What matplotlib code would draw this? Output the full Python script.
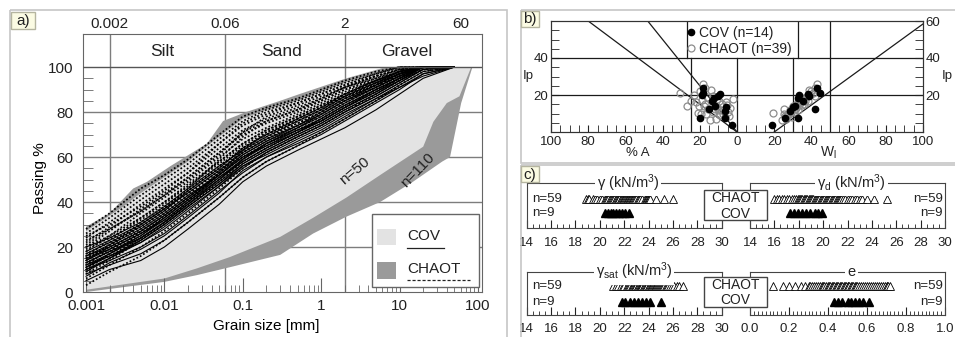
import numpy as np
import matplotlib.pyplot as plt
import matplotlib.transforms as mtransforms
from matplotlib.patches import Rectangle
from matplotlib.lines import Line2D
from matplotlib.ticker import MultipleLocator, FixedLocator, LogLocator, NullFormatter

plt.rcParams['font.family'] = ['Liberation Sans', 'DejaVu Sans']
plt.rcParams['mathtext.fontset'] = 'custom'
plt.rcParams['mathtext.rm'] = 'Liberation Sans'
plt.rcParams['mathtext.it'] = 'Liberation Sans:italic'
plt.rcParams['text.color'] = '#222222'
plt.rcParams['xtick.color'] = '#222222'
plt.rcParams['ytick.color'] = '#222222'

# ---- a) grading curves ----
grain_mm = [0.001, 0.002, 0.005, 0.01, 0.02, 0.05, 0.1, 0.2, 0.5, 1, 2, 5, 10, 20, 50]

cov_curves = [
    [5, 10, 14, 20, 28, 39, 49, 56, 63, 68, 73, 81, 88, 95, 100],
    [8, 12, 17, 23, 31, 42, 51, 58, 65, 70, 76, 84, 90, 97, 100],
    [10, 14, 20, 26, 34, 45, 53, 60, 67, 72, 78, 86, 92, 98, 100],
    [12, 16, 22, 28, 36, 47, 55, 62, 69, 74, 80, 87, 93, 99, 100],
    [13, 18, 24, 31, 39, 49, 57, 63, 70, 75, 81, 88, 94, 100, 100],
    [15, 19, 26, 33, 41, 51, 58, 64, 71, 77, 83, 90, 95, 100, 100],
    [16, 21, 28, 35, 43, 52, 60, 66, 73, 78, 84, 91, 96, 100, 100],
    [18, 23, 30, 37, 44, 54, 62, 68, 74, 80, 86, 92, 97, 100, 100],
    [11, 17, 25, 32, 40, 50, 59, 65, 72, 76, 82, 89, 95, 100, 100],
    [9, 15, 23, 30, 38, 48, 56, 61, 68, 73, 79, 86, 91, 96, 100],
    [20, 24, 31, 38, 46, 56, 63, 69, 76, 81, 87, 93, 98, 100, 100],
    [14, 20, 27, 34, 42, 53, 61, 67, 73, 79, 85, 91, 96, 100, 100],
    [7, 13, 19, 25, 33, 44, 54, 60, 66, 71, 77, 85, 91, 97, 100],
    [17, 22, 29, 36, 45, 55, 64, 70, 77, 82, 88, 94, 98, 100, 100],
    [10, 15, 22, 29, 37, 47, 56, 62, 69, 74, 80, 87, 93, 99, 100],
    [12, 17, 24, 31, 39, 50, 58, 64, 71, 76, 82, 89, 94, 100, 100],
    [14, 19, 26, 32, 40, 51, 59, 66, 72, 77, 83, 90, 95, 100, 100],
    [11, 16, 23, 30, 38, 48, 57, 63, 70, 75, 81, 88, 94, 99, 100],
    [16, 20, 27, 34, 42, 52, 61, 67, 74, 79, 85, 92, 97, 100, 100],
    [13, 18, 25, 33, 41, 52, 60, 65, 71, 76, 82, 90, 95, 100, 100],
]

chaot_curves = [
    [28, 35, 46, 52, 59, 70, 78, 82, 86, 90, 94, 98, 100, 100, 100],
    [26, 33, 43, 50, 57, 68, 76, 81, 85, 89, 93, 97, 100, 100, 100],
    [24, 31, 41, 48, 55, 66, 74, 79, 84, 88, 92, 96, 99, 100, 100],
    [22, 29, 39, 46, 53, 64, 72, 77, 82, 86, 91, 95, 99, 100, 100],
    [20, 27, 37, 44, 51, 62, 70, 75, 80, 85, 90, 95, 98, 100, 100],
    [18, 25, 35, 42, 49, 60, 68, 73, 79, 84, 89, 94, 98, 100, 100],
    [16, 23, 33, 40, 47, 58, 66, 72, 78, 83, 88, 93, 97, 100, 100],
    [14, 21, 31, 38, 45, 56, 64, 70, 76, 81, 87, 93, 97, 100, 100],
    [12, 19, 28, 35, 43, 54, 62, 68, 75, 80, 86, 92, 96, 100, 100],
    [10, 17, 26, 33, 41, 52, 60, 66, 73, 78, 84, 91, 96, 100, 100],
    [8, 14, 23, 30, 38, 49, 58, 64, 71, 76, 82, 89, 95, 100, 100],
    [6, 12, 20, 27, 35, 46, 55, 62, 69, 74, 80, 88, 94, 99, 100],
    [3, 9, 16, 23, 31, 42, 51, 58, 65, 71, 77, 85, 92, 98, 100],
    [25, 30, 38, 45, 53, 66, 75, 80, 84, 88, 92, 97, 100, 100, 100],
    [21, 28, 36, 43, 50, 61, 71, 78, 83, 87, 91, 96, 99, 100, 100],
    [15, 20, 30, 37, 46, 59, 69, 76, 81, 85, 90, 94, 98, 100, 100],
    [11, 16, 24, 31, 40, 53, 63, 71, 77, 82, 87, 92, 97, 100, 100],
    [19, 24, 32, 39, 47, 57, 65, 71, 77, 82, 88, 94, 98, 100, 100],
    [13, 18, 27, 34, 42, 53, 62, 68, 74, 79, 85, 91, 96, 100, 100],
    [17, 22, 30, 37, 45, 55, 64, 70, 76, 81, 87, 93, 97, 100, 100],
    [9, 15, 24, 31, 39, 50, 59, 66, 72, 77, 83, 90, 95, 100, 100],
    [20, 25, 33, 40, 48, 58, 66, 72, 78, 83, 88, 94, 98, 100, 100],
    [15, 21, 29, 36, 44, 54, 63, 69, 75, 80, 86, 92, 97, 100, 100],
    [23, 28, 36, 43, 51, 62, 71, 76, 81, 86, 91, 96, 99, 100, 100],
]

# envelopes of all samples
chaot_top_mm = [0.001, 0.002, 0.004, 0.006, 0.012, 0.035, 0.056, 0.11, 0.3, 0.53, 2.1, 6, 20]
chaot_top = [29, 35, 46, 49, 56, 66, 76, 80, 85, 88, 95, 99.5, 100]
chaot_bot_mm = [0.001, 0.01, 0.026, 0.068, 0.3, 0.79, 2.1, 5.65, 14.8, 35, 44, 61, 85]
chaot_bot = [0, 4.5, 7.5, 11, 16.5, 26, 33.5, 40, 49, 58, 60, 84, 100]
cov_top_mm = [0.001, 0.002, 0.003, 0.005, 0.01, 0.02, 0.03, 0.05, 0.1, 0.2, 0.5, 1, 2, 5, 10, 20]
cov_top = [27, 34, 38, 44, 51, 58, 63, 69, 77, 81, 85, 89, 93, 97, 99.5, 100]
cov_bot_mm = [0.001, 0.01, 0.026, 0.068, 0.3, 0.79, 2.1, 5.65, 20, 27, 40, 58, 82]
cov_bot = [1, 6, 10.5, 15.5, 24.5, 33, 42, 52, 64.6, 75.7, 84, 87, 100]

class_limits = [0.002, 0.06, 2]
class_names = ['Silt', 'Sand', 'Gravel']
class_centres = [0.0095, 0.31, 12.5]
top_marks = [0.002, 0.06, 2, 60]
top_labels = ['0.002', '0.06', '2', '60']

# ---- b) plasticity / activity ----
cov_ip = [4.0, 7.6, 7.8, 11.5, 12.3, 13.3, 14.2, 17.0, 18.3, 19.5, 20.0, 20.3, 21.2, 23.6]
cov_clay = [2.5, 19.9, 6.3, 6.7, 14.8, 5.9, 11.8, 13.6, 12.2, 10.0, 19.0, 9.3, 18.4, 18.4]
cov_wl = [19.0, 25.8, 32.6, 28.5, 41.9, 30.3, 31.0, 35.6, 33.0, 38.9, 33.5, 38.0, 44.6, 43.2]

chaot_ip = [25.7, 21.3, 14.0, 16.4, 17.3, 14.0, 10.0, 6.7, 11.0, 13.6, 15.4, 14.5, 17.6,
            8.5, 10.0, 11.8, 12.7, 15.4, 10.4, 12.5, 9.0, 22.0, 23.6, 22.5, 19.0, 18.0,
            16.0, 13.0, 11.0, 8.0, 7.0, 12.0, 14.8, 17.0, 20.0, 9.5, 13.8, 16.8, 19.6]
chaot_clay = [18.4, 30.6, 26.7, 22.1, 19.0, 18.0, 19.5, 14.5, 13.0, 10.9, 8.2, 5.6, 2.3,
              4.1, 7.3, 10.0, 15.4, 17.2, 21.0, 12.0, 9.0, 20.0, 17.0, 14.0, 16.0, 11.0,
              6.0, 3.5, 5.0, 6.5, 11.5, 8.5, 12.5, 25.0, 23.0, 16.5, 20.5, 9.5, 12.8]
chaot_wl = [43.2, 40.6, 30.0, 33.0, 34.0, 31.5, 27.6, 24.0, 29.0, 30.3, 32.0, 33.5, 35.0,
            26.0, 25.0, 28.5, 31.0, 36.0, 19.2, 25.0, 27.0, 40.0, 41.9, 38.5, 37.0, 35.5,
            34.5, 31.8, 30.5, 29.5, 26.5, 33.0, 35.0, 38.0, 39.5, 28.0, 32.5, 36.5, 42.0]

activity_slopes = [0.75, 1.25]
a_line_slope, a_line_wl0 = 0.73, 20

# ---- c) unit weights and void ratio ----
gamma_chaot = [18.9, 19.0, 19.1, 19.4, 19.6, 19.8, 20.0, 20.2, 20.4, 20.5, 20.6, 20.7, 20.8,
               20.9, 21.0, 21.1, 21.2, 21.3, 21.35, 21.4, 21.5, 21.55, 21.6, 21.7, 21.75,
               21.8, 21.9, 21.95, 22.0, 22.1, 22.15, 22.2, 22.3, 22.35, 22.4, 22.45, 22.5,
               22.55, 22.6, 22.7, 22.75, 22.8, 22.9, 23.0, 23.1, 23.2, 23.3, 23.5, 23.7,
               23.8, 23.85, 23.9, 23.95, 24.0, 24.05, 24.1, 24.6, 25.3, 26.0]
gamma_cov = [20.4, 20.7, 20.9, 21.1, 21.3, 21.6, 21.8, 22.1, 22.4]

gamma_d_chaot = [16.0, 16.25, 16.4, 16.65, 16.8, 17.0, 17.2, 17.45, 17.6, 17.8, 17.9, 18.0,
                 18.1, 18.2, 18.3, 18.4, 18.5, 18.6, 18.7, 18.8, 18.9, 19.0, 19.1, 19.2,
                 19.3, 19.4, 19.5, 19.6, 19.7, 19.8, 19.9, 20.0, 20.1, 20.2, 20.3, 20.4,
                 20.5, 20.6, 20.7, 20.8, 20.9, 21.0, 21.1, 21.2, 21.3, 21.4, 21.5, 21.6,
                 21.8, 22.0, 22.2, 22.4, 22.6, 22.8, 23.0, 23.2, 23.6, 24.2, 25.2]
gamma_d_cov = [17.3, 17.6, 17.9, 18.3, 18.6, 18.9, 19.3, 19.6, 19.9]

gamma_sat_chaot = [21.1, 21.3, 21.5, 21.7, 21.9, 22.0, 22.2, 22.3, 22.4, 22.5, 22.6, 22.7,
                   22.75, 22.8, 22.9, 22.95, 23.0, 23.1, 23.15, 23.2, 23.3, 23.35, 23.4,
                   23.45, 23.5, 23.6, 23.65, 23.7, 23.8, 23.85, 23.9, 24.0, 24.05, 24.1,
                   24.2, 24.25, 24.3, 24.4, 24.45, 24.5, 24.6, 24.65, 24.7, 24.8, 24.85,
                   24.9, 25.0, 25.1, 25.2, 25.3, 25.4, 25.5, 25.6, 25.75, 25.9, 26.1, 26.3,
                   26.5, 26.8]
gamma_sat_cov = [21.8, 22.1, 22.5, 22.8, 23.1, 23.5, 23.8, 24.1, 25.0]

e_chaot = [0.12, 0.17, 0.20, 0.23, 0.26, 0.28, 0.30, 0.31, 0.32, 0.33, 0.34, 0.35, 0.36,
           0.37, 0.375, 0.38, 0.39, 0.40, 0.405, 0.41, 0.42, 0.425, 0.43, 0.44, 0.445,
           0.45, 0.46, 0.465, 0.47, 0.48, 0.485, 0.49, 0.50, 0.505, 0.51, 0.52, 0.525,
           0.53, 0.54, 0.545, 0.55, 0.56, 0.57, 0.58, 0.59, 0.60, 0.61, 0.62, 0.63, 0.64,
           0.65, 0.66, 0.67, 0.68, 0.69, 0.70, 0.705, 0.71, 0.72]
e_cov = [0.43, 0.45, 0.47, 0.50, 0.52, 0.54, 0.56, 0.58, 0.61]

LIGHT = '#e3e3e3'
DARK = '#9a9a9a'
GRID = '#7d7d7d'

fig = plt.figure(figsize=(9.55, 3.37), dpi=100)
W, H = 955.0, 337.0


def frac(x0, y0, x1, y1):
    # pixel box (top-left origin) -> figure fraction rect
    return [x0 / W, 1 - y1 / H, (x1 - x0) / W, (y1 - y0) / H]


# ================= panel a =================
ax = fig.add_axes(frac(83, 34, 482, 292))
ax.set_xscale('log')
ax.set_xlim(0.000916, 112.5)
ax.set_ylim(0, 114.7)

for d in class_limits:
    ax.axvline(d, color=GRID, lw=1, zorder=0.5)
for p in [20, 40, 60, 80]:
    ax.axhline(p, color=GRID, lw=1, zorder=0.5)
ax.axhline(100, color='#555555', lw=1, zorder=3)

ax.fill(chaot_top_mm + chaot_bot_mm[::-1], chaot_top + chaot_bot[::-1],
        color=DARK, lw=0, zorder=1)
ax.fill(cov_top_mm + cov_bot_mm[::-1], cov_top + cov_bot[::-1],
        color=LIGHT, lw=0, zorder=1.1)

for c in chaot_curves:
    ax.plot(grain_mm, c, color='black', lw=1.25, ls=(0, (1, 1.2)), zorder=2)
for c in cov_curves:
    ax.plot(grain_mm, c, color='black', lw=0.8, zorder=2.1)

blend = mtransforms.blended_transform_factory(ax.transData, ax.transAxes)
for d, s in zip(top_marks, top_labels):
    ax.text(d, 1.04, s, transform=blend, ha='center', va='center', fontsize=11)
for d, s in zip(class_centres, class_names):
    ax.text(d, 106.8, s, ha='center', va='center', fontsize=12.5)

ax.text(2.7, 54, 'n=50', rotation=40, ha='center', va='center', fontsize=11, zorder=4)
ax.text(17, 54, 'n=110', rotation=46, ha='center', va='center', fontsize=11, zorder=4)

ax.set_xticks([0.001, 0.01, 0.1, 1, 10, 100])
ax.set_xticklabels(['0.001', '0.01', '0.1', '1', '10', '100'])
ax.xaxis.set_minor_locator(LogLocator(base=10, subs=np.arange(2, 10), numticks=20))
ax.xaxis.set_minor_formatter(NullFormatter())
ax.tick_params(axis='x', which='major', direction='in', length=10, color='#666666',
               labelsize=11, pad=5)
ax.tick_params(axis='x', which='minor', direction='in', length=5, color='#666666')
ax.set_yticks([0, 20, 40, 60, 80, 100])
ax.yaxis.set_minor_locator(FixedLocator(list(range(5, 100, 5))))
ax.tick_params(axis='y', which='major', length=0, labelsize=11, pad=7)
ax.tick_params(axis='y', which='minor', direction='in', length=7, color='#666666')
for sp in ax.spines.values():
    sp.set_color('#666666')
ax.set_ylabel('Passing %', fontsize=11)
ax.yaxis.set_label_coords(-0.09, 0.44)
ax.set_xlabel('Grain size [mm]', fontsize=11)
ax.xaxis.set_label_coords(0.459, -0.104)

# legend box
ax.add_patch(Rectangle((0.724, 0.019), 0.268, 0.283, transform=ax.transAxes,
                       fc='white', ec='#666666', lw=1, zorder=5))
ax.add_patch(Rectangle((0.737, 0.182), 0.047, 0.062, transform=ax.transAxes,
                       fc=LIGHT, ec='none', zorder=6))
ax.add_patch(Rectangle((0.737, 0.050), 0.047, 0.066, transform=ax.transAxes,
                       fc=DARK, ec='none', zorder=6))
ax.text(0.812, 0.217, 'COV', transform=ax.transAxes, va='center', fontsize=11, zorder=6)
ax.text(0.812, 0.091, 'CHAOT', transform=ax.transAxes, va='center', fontsize=11, zorder=6)
ax.add_line(Line2D([0.812, 0.905], [0.172, 0.172], transform=ax.transAxes,
                   color='#222222', lw=0.9, zorder=6))
ax.add_line(Line2D([0.812, 0.97], [0.048, 0.048], transform=ax.transAxes,
                   color='#222222', lw=0.9, ls=(0, (2.5, 1.5)), zorder=6))

# ================= panel b =================
axb = fig.add_axes(frac(551, 21, 923, 132))
axb.set_xlim(-100, 100)
axb.set_ylim(0, 60)
LK = '#1a1a1a'
axb.axhline(40, color=LK, lw=0.9)
axb.axhline(20, color=LK, lw=0.9)
axb.plot([0, 0], [0, 40], color=LK, lw=0.9)
axb.plot([-25, -25], [0, 40], color=LK, lw=0.9)
axb.plot([30, 30], [0, 40], color=LK, lw=0.9)
axb.plot([50, 50], [0, 60], color=LK, lw=0.9)
axb.plot([-27, -27], [40, 60], color=LK, lw=0.9)
axb.plot([33, 33], [40, 60], color=LK, lw=0.9)
for s in activity_slopes:
    axb.plot([0, -60 / s], [0, 60], color=LK, lw=0.9)
axb.plot([a_line_wl0, 100], [0, a_line_slope * (100 - a_line_wl0)], color=LK, lw=0.9)

axb.plot(-np.array(chaot_clay), chaot_ip, 'o', ms=5, mfc='none', mec='#8c8c8c', mew=0.9)
axb.plot(chaot_wl, chaot_ip, 'o', ms=5, mfc='none', mec='#8c8c8c', mew=0.9)
axb.plot(-np.array(cov_clay), cov_ip, 'o', ms=4.5, color='black')
axb.plot(cov_wl, cov_ip, 'o', ms=4.5, color='black')

handles = [Line2D([], [], ls='none', marker='o', ms=4.5, color='black'),
           Line2D([], [], ls='none', marker='o', ms=5, mfc='none', mec='#8c8c8c', mew=0.9)]
axb.legend(handles, ['COV (n=14)', 'CHAOT (n=39)'], loc='upper left',
           bbox_to_anchor=(0.365, 0.955), frameon=False, fontsize=10, handlelength=0.6,
           handletextpad=0.25, labelspacing=0.12, borderpad=0, borderaxespad=0)

axb.set_xticks(list(range(-100, 101, 20)))
axb.set_xticklabels(['100', '80', '60', '40', '20', '0', '20', '40', '60', '80', '100'])
axb.xaxis.set_minor_locator(MultipleLocator(5))
axb.tick_params(axis='x', which='both', direction='in', length=5, labelsize=9.5, pad=3)
axb.set_yticks([20, 40])
axb.yaxis.set_minor_locator(MultipleLocator(5))
axb.tick_params(axis='y', which='both', direction='in', length=6, labelsize=9.5, pad=2)
axb_r = axb.twinx()
axb_r.set_ylim(0, 60)
axb_r.set_yticks([20, 40, 60])
axb_r.yaxis.set_minor_locator(MultipleLocator(5))
axb_r.tick_params(axis='y', which='both', direction='in', length=6, labelsize=9.5, pad=2)
for a in (axb, axb_r):
    for sp in a.spines.values():
        sp.set_color('#333333')
axb.text(-0.062, 0.5, 'Ip', transform=axb.transAxes, ha='center', va='center', fontsize=9.5)
axb.text(1.065, 0.5, 'Ip', transform=axb.transAxes, ha='center', va='center', fontsize=9.5)
axb.text(0.234, -0.19, '% A', transform=axb.transAxes, ha='center', va='center', fontsize=9.5)
axb.text(0.745, -0.19, r'W$_\mathregular{l}$', transform=axb.transAxes, ha='center',
         va='center', fontsize=10)


# ================= panel c =================
def strip(box, lo, hi, major, minor, chaot, cov, title, tx, nside, rows, fmt):
    a = fig.add_axes(frac(*box))
    a.set_xlim(lo, hi)
    a.set_ylim(0, 1)
    a.plot(chaot, [rows[0]] * len(chaot), '^', ms=5.8, mfc='white', mec='black', mew=0.6)
    a.plot(cov, [rows[1]] * len(cov), '^', ms=5.8, color='black')
    a.set_yticks([])
    a.xaxis.set_major_locator(MultipleLocator(major))
    a.xaxis.set_minor_locator(MultipleLocator(minor))
    a.xaxis.set_major_formatter(fmt)
    a.tick_params(axis='x', which='major', direction='in', length=6, labelsize=9.5, pad=6)
    a.tick_params(axis='x', which='minor', direction='in', length=3)
    for sp in a.spines.values():
        sp.set_color('#444444')
    a.text(tx, 1.0, title, transform=a.transAxes, ha='center', va='center', fontsize=10.5,
           bbox=dict(fc='white', ec='none', pad=1.5))
    if nside == 'left':
        a.text(0.027, rows[0], 'n=59', transform=a.transAxes, ha='left', va='center', fontsize=9.5)
        a.text(0.027, rows[1], 'n=9', transform=a.transAxes, ha='left', va='center', fontsize=9.5)
    else:
        a.text(0.99, rows[0], 'n=59', transform=a.transAxes, ha='right', va='center', fontsize=9.5)
        a.text(0.99, rows[1], 'n=9', transform=a.transAxes, ha='right', va='center', fontsize=9.5)
    return a


int_fmt = lambda v, pos: '%d' % round(v)
dec_fmt = lambda v, pos: '%.1f' % v
unit = r' (kN/m$^\mathregular{3}$)'
strip((526.7, 183.3, 721.7, 228.3), 14, 30, 2, 0.5, gamma_chaot, gamma_cov,
      r'$\mathregular{\gamma}$' + unit, 0.52, 'left', (0.65, 0.34), int_fmt)
strip((750, 183.3, 945, 228.3), 14, 30, 2, 0.5, gamma_d_chaot, gamma_d_cov,
      r'$\mathregular{\gamma_d}$' + unit, 0.52, 'right', (0.65, 0.34), int_fmt)
strip((526.7, 271.7, 721.7, 315), 14, 30, 2, 0.5, gamma_sat_chaot, gamma_sat_cov,
      r'$\mathregular{\gamma_{sat}}$' + unit, 0.55, 'left', (0.677, 0.307), int_fmt)
strip((750, 271.7, 945, 315), 0, 1, 0.2, 0.02, e_chaot, e_cov,
      'e', 0.52, 'right', (0.677, 0.307), dec_fmt)

# ================= frames and panel tags =================
ov = fig.add_axes([0, 0, 1, 1], zorder=10)
ov.set_xlim(0, W)
ov.set_ylim(H, 0)
ov.axis('off')
ov.patch.set_alpha(0)
for x0, y0, w, h in [(10, 10, 497, 340), (521, 10, 440, 153), (521, 165, 440, 180)]:
    ov.add_patch(Rectangle((x0, y0), w, h, fc='none', ec='#c6c6c6', lw=1.2))
for x0, y0, w, h, s in [(11, 12, 24, 17, 'a)'), (521, 11, 18, 16, 'b)'), (521, 166, 18, 16, 'c)')]:
    ov.add_patch(Rectangle((x0, y0), w, h, fc='#fbfbe3', ec='#b5b5a0', lw=1))
    ov.text(x0 + w / 2, y0 + h / 2 + 0.5, s, ha='center', va='center', fontsize=11)
for y0 in [190, 276.7]:
    ov.add_patch(Rectangle((704, y0), 63, 30, fc='white', ec='#444444', lw=1))
    ov.text(735.5, y0 + 8.3, 'CHAOT', ha='center', va='center', fontsize=10)
    ov.text(735.5, y0 + 23.5, 'COV', ha='center', va='center', fontsize=10)

fig.savefig('out.png', dpi=100)
